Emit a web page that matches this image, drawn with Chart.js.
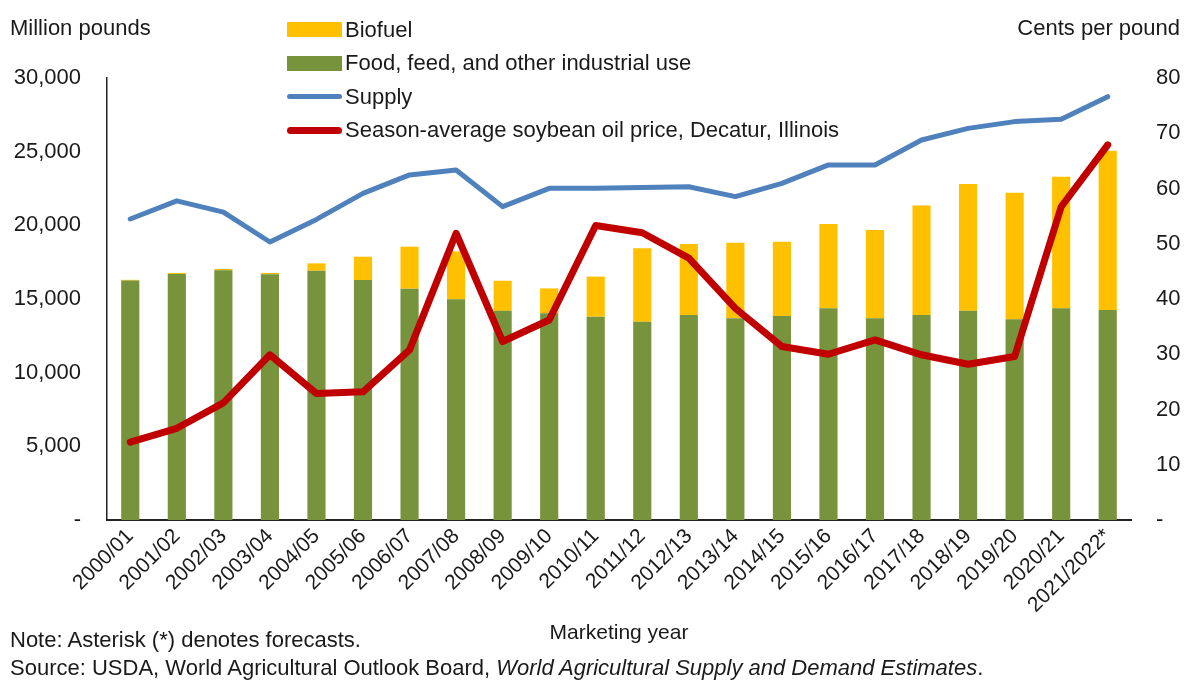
<!DOCTYPE html>
<html>
<head>
<meta charset="utf-8">
<title>Soybean oil use, supply and price</title>
<script src="https://cdn.jsdelivr.net/npm/chart.js@4.4.1/dist/chart.umd.min.js"></script>
<style>
  body { margin: 0; background: #fff; font-family: "Liberation Sans", Arial, sans-serif; color: #1a1a1a; }
  #wrap { position: relative; width: 1186px; height: 684px; }
  #wrap canvas { position: absolute; left: 0; top: 0; width: 1186px; height: 684px; }
  .txt { position: absolute; font-size: 22px; line-height: 24px; white-space: nowrap; }
  #legend { position: absolute; left: 287px; top: 13px; }
  .item { display: flex; align-items: center; height: 33.5px; font-size: 22px; white-space: nowrap; }
  .sw { width: 55px; margin-right: 3px; }
</style>
</head>
<body>
<div id="wrap">
  <canvas id="chart" width="1186" height="684"></canvas>
  <div class="txt" style="left:10px; top:16px;">Million pounds</div>
  <div class="txt" style="right:6px; top:16px;">Cents per pound</div>
  <div id="legend"></div>
  <div class="txt" style="left:10px; top:628px;">Note: Asterisk (*) denotes forecasts.</div>
  <div class="txt" style="left:10px; top:656px;">Source: USDA, World Agricultural Outlook Board, <i>World Agricultural Supply and Demand Estimates</i>.</div>
</div>
<script>
// marketing years
const years = ['2000/01', '2001/02', '2002/03', '2003/04', '2004/05', '2005/06', '2006/07', '2007/08',
  '2008/09', '2009/10', '2010/11', '2011/12', '2012/13', '2013/14', '2014/15', '2015/16',
  '2016/17', '2017/18', '2018/19', '2019/20', '2020/21', '2021/2022*'];

// million pounds
const foodUse = [16250, 16700, 16950, 16680, 16920, 16290, 15700, 14980, 14200, 14030, 13800,
  13460, 13910, 13690, 13850, 14370, 13690, 13910, 14210, 13620, 14370, 14250];
const biofuelUse = [50, 70, 90, 90, 500, 1580, 2850, 3250, 2040, 1690, 2720,
  4980, 4820, 5130, 5040, 5720, 5990, 7430, 8600, 8600, 8930, 10820];
const supply = [20430, 21660, 20900, 18870, 20400, 22170, 23420, 23760, 21270, 22510, 22510,
  22560, 22620, 21950, 22850, 24100, 24100, 25790, 26580, 27040, 27200, 28730];

// cents per pound
const oilPrice = [14.1, 16.6, 21.2, 29.9, 22.9, 23.2, 30.8, 51.9, 32.3, 36.2, 53.3,
  52.0, 47.4, 38.3, 31.4, 30.0, 32.6, 29.9, 28.2, 29.6, 56.7, 67.9];

// axis tick labels
const leftTicks = ['-', '5,000', '10,000', '15,000', '20,000', '25,000', '30,000'];
const rightTicks = ['-', '10', '20', '30', '40', '50', '60', '70', '80'];

const GREEN = '#77933C', YELLOW = '#FFC000', BLUE = '#4F81BD', RED = '#C00000';
const FONT = '"Liberation Sans", Arial, sans-serif';
const INK = '#1a1a1a';

const chart = new Chart(document.getElementById('chart'), {
  type: 'bar',
  data: {
    labels: years,
    datasets: [
      {
        label: 'Food, feed, and other industrial use',
        data: foodUse,
        backgroundColor: GREEN,
        stack: 'use',
        yAxisID: 'y',
        order: 3,
        barPercentage: 0.39,
        categoryPercentage: 1
      },
      {
        label: 'Biofuel',
        data: biofuelUse,
        backgroundColor: YELLOW,
        stack: 'use',
        yAxisID: 'y',
        order: 3,
        barPercentage: 0.39,
        categoryPercentage: 1
      },
      {
        type: 'line',
        label: 'Supply',
        data: supply,
        borderColor: BLUE,
        backgroundColor: BLUE,
        borderWidth: 5,
        pointRadius: 0,
        tension: 0,
        borderCapStyle: 'round',
        borderJoinStyle: 'round',
        yAxisID: 'y',
        order: 2
      },
      {
        type: 'line',
        label: 'Season-average soybean oil price, Decatur, Illinois',
        data: oilPrice,
        borderColor: RED,
        backgroundColor: RED,
        borderWidth: 7,
        pointRadius: 0,
        tension: 0,
        borderCapStyle: 'round',
        borderJoinStyle: 'round',
        yAxisID: 'y1',
        order: 1
      }
    ]
  },
  options: {
    responsive: false,
    maintainAspectRatio: false,
    animation: false,
    layout: { padding: { left: 0, right: 0, top: 78, bottom: 36 } },
    plugins: {
      legend: { display: false },
      tooltip: { enabled: false }
    },
    scales: {
      x: {
        stacked: true,
        grid: { display: false, drawTicks: false },
        border: { display: true, color: '#222', width: 2 },
        ticks: {
          color: INK,
          font: { family: FONT, size: 21 },
          maxRotation: 45,
          minRotation: 45,
          autoSkip: false,
          padding: 4
        },
        title: {
          display: true,
          text: 'Marketing year',
          color: INK,
          font: { family: FONT, size: 21 },
          padding: { top: 0, bottom: 2 }
        },
        afterFit: s => { s.height = 128; }
      },
      y: {
        position: 'left',
        stacked: true,
        min: 0,
        max: 30000,
        grid: { display: false, drawTicks: false },
        border: { display: true, color: '#222', width: 1.5 },
        ticks: {
          stepSize: 5000,
          color: INK,
          font: { family: FONT, size: 22 },
          padding: 26,
          callback: v => leftTicks[v / 5000]
        },
        afterFit: s => { s.width = 107; }
      },
      y1: {
        position: 'right',
        min: 0,
        max: 80,
        grid: { display: false, drawTicks: false },
        border: { display: false },
        ticks: {
          stepSize: 10,
          color: INK,
          font: { family: FONT, size: 22 },
          padding: 25,
          callback: v => rightTicks[v / 10]
        },
        afterFit: s => { s.width = 55; }
      }
    }
  }
});

// legend, in the order of the reference
const legend = document.getElementById('legend');
[1, 0, 2, 3].forEach(i => {
  const ds = chart.data.datasets[i];
  const row = document.createElement('div');
  row.className = 'item';
  const sw = document.createElement('span');
  sw.className = 'sw';
  if (ds.type === 'line') {
    sw.style.height = ds.borderWidth + 'px';
    sw.style.background = ds.borderColor;
    sw.style.borderRadius = ds.borderWidth + 'px';
  } else {
    sw.style.height = '15px';
    sw.style.background = ds.backgroundColor;
  }
  const label = document.createElement('span');
  label.textContent = ds.label;
  row.appendChild(sw);
  row.appendChild(label);
  legend.appendChild(row);
});
</script>
</body>
</html>
